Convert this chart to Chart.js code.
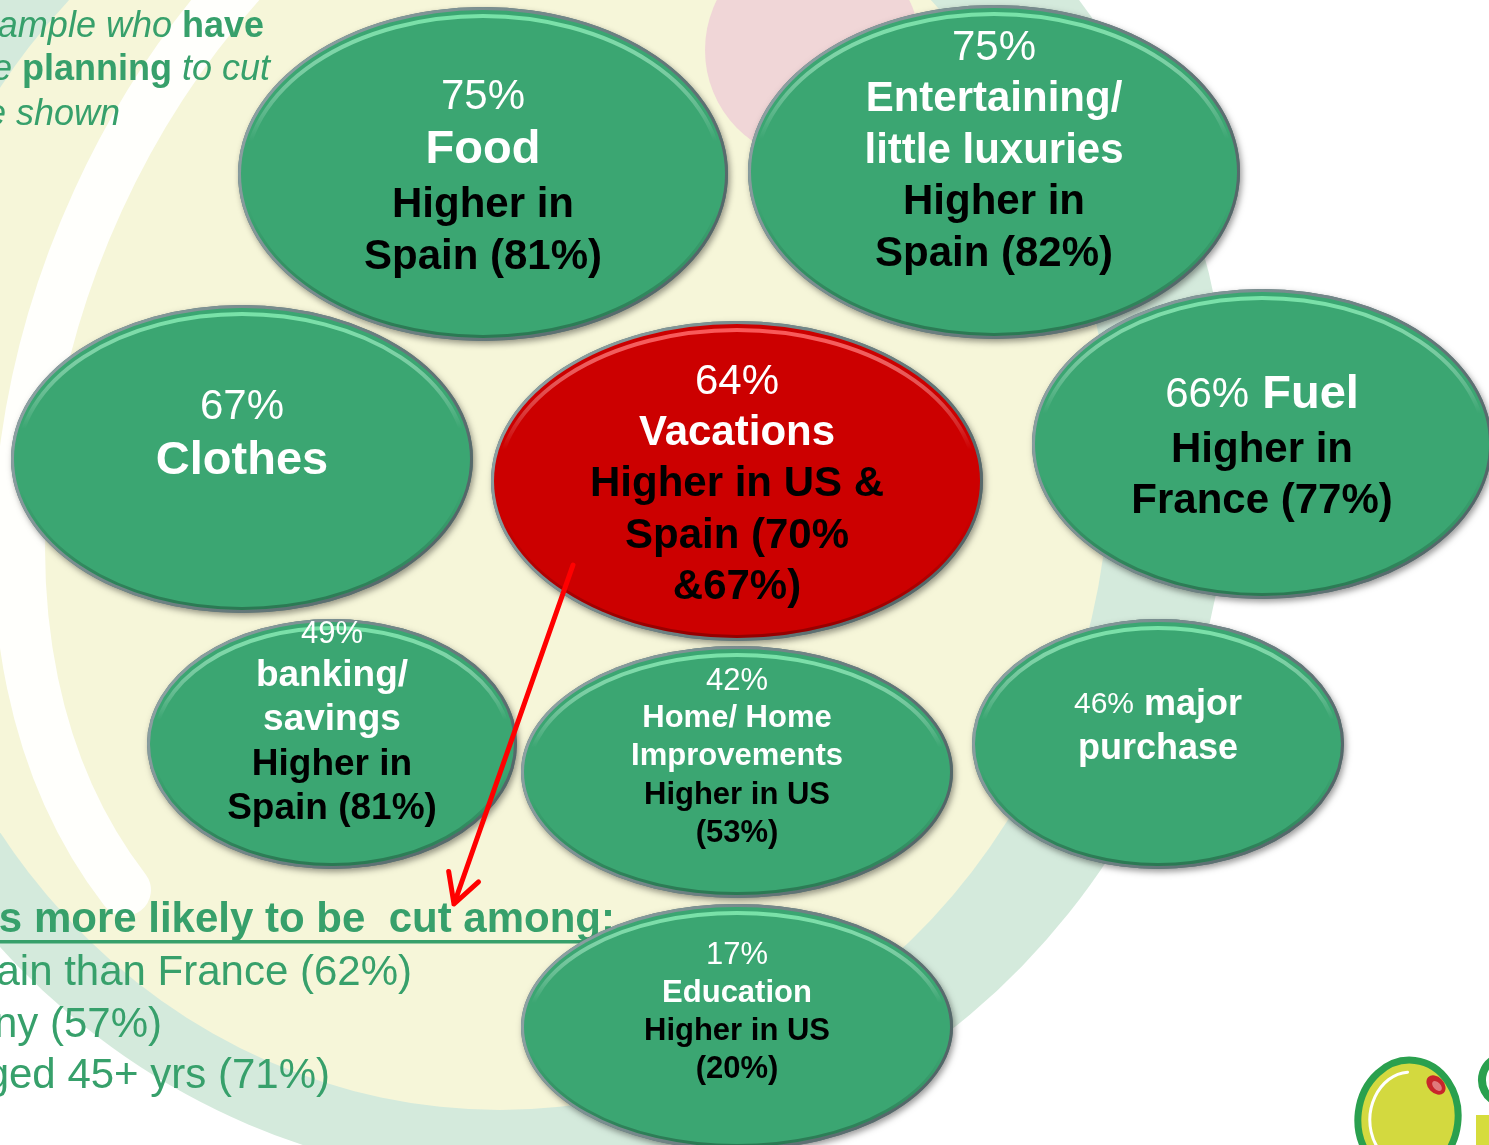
<!DOCTYPE html>
<html>
<head>
<meta charset="utf-8">
<script src="https://cdn.jsdelivr.net/npm/chart.js@4.4.1/dist/chart.umd.min.js"></script>
<style>
    html, body { margin: 0; padding: 0; background: #ffffff; overflow: hidden; }
    #wrap { width: 1489px; height: 1145px; }
</style>
</head>
<body>
<div id="wrap"><canvas id="cutChart" width="1489" height="1145"></canvas></div>
<script>
// spending areas people plan to cut, share of sample (%)
const categories = ["Food", "Entertaining/\nlittle luxuries", "Clothes", "Vacations", "Fuel",
    "banking/\nsavings", "Home/ Home\nImprovements", "major\npurchase", "Education"];
const cutShares = [75, 75, 67, 64, 66, 49, 42, 46, 17];
const higherIn = ["Higher in\nSpain (81%)", "Higher in\nSpain (82%)", "", "Higher in US &\nSpain (70%\n&67%)",
    "Higher in\nFrance (77%)", "Higher in\nSpain (81%)", "Higher in US\n(53%)", "", "Higher in US\n(20%)"];

// bubble centres and half-axes on a 0..1489 x 0..1145 plane
const bubbleX = [483, 994, 242, 737, 1262, 332, 737, 1158, 737];
const bubbleY = [174, 172, 459, 481, 444, 744, 772, 744, 1027];
const bubbleRX = [242, 243, 228, 243, 227, 182, 213, 183, 213];
const bubbleRY = [164, 164, 151, 157, 152, 122, 123, 122, 120];

const FONT = '"Liberation Sans", Arial, sans-serif';
const WHITE = "#ffffff";
const BLACK = "#000000";
const TEXT_GREEN = "#37a06b";

// label layout: font sizes [share, category, note], line centres, share on same line as category
const labelSizes = [[42, 47, 42], [42, 42, 42], [42, 47, 42], [42, 42, 42], [42, 47, 42],
    [31, 37, 37], [31, 31, 31], [30, 36, 36], [31, 31, 31]];
const labelLineY = [
    [97, 150, 205, 257],
    [48, 99, 151, 202, 254],
    [407, 461],
    [382, 433, 484, 536, 587],
    [395, 450, 501],
    [634, 676, 720, 765, 809],
    [681, 718, 756, 795, 833],
    [705, 749],
    [955, 993, 1031, 1069],
];
const shareInline = [false, false, false, false, true, false, false, true, false];
const highlightIndex = 3;

function ellipsePath(ctx, x, y, rx, ry, rot) {
    ctx.beginPath();
    ctx.ellipse(x, y, Math.max(rx, 1), Math.max(ry, 1), rot || 0, 0, Math.PI * 2);
}

function drawSegments(ctx, segs, x, y, align, size) {
    let total = 0;
    segs.forEach(function (s) {
        ctx.font = s[1] + " " + (s[3] || size) + "px " + FONT;
        s.w = ctx.measureText(s[0]).width;
        total += s.w;
    });
    let start = align === "right" ? x - total : x - total / 2;
    ctx.textAlign = "left";
    ctx.textBaseline = "middle";
    segs.forEach(function (s) {
        ctx.font = s[1] + " " + (s[3] || size) + "px " + FONT;
        ctx.fillStyle = s[2];
        ctx.fillText(s[0], start, y);
        start += s.w;
    });
    return total;
}

const olivePlugin = {
    id: "oliveBackdrop",
    beforeDatasetsDraw(chart) {
        const ctx = chart.ctx;
        const sx = chart.scales.x;
        const sy = chart.scales.y;
        const X = (v) => sx.getPixelForValue(v);
        const Y = (v) => sy.getPixelForValue(v);
        const LX = (v) => sx.getPixelForValue(v) - sx.getPixelForValue(0);
        const LY = (v) => sy.getPixelForValue(v) - sy.getPixelForValue(0);

        ctx.save();
        // big faded olive behind the bubbles
        ellipsePath(ctx, X(520), Y(450), LX(710), LY(730), 0);
        ctx.fillStyle = "#d4eadc";
        ctx.fill();
        ellipsePath(ctx, X(500), Y(460), LX(610), LY(650), 0);
        ctx.fillStyle = "#f6f6d9";
        ctx.fill();

        // highlight arc
        ctx.beginPath();
        ctx.moveTo(X(238), Y(-15));
        ctx.bezierCurveTo(X(10), Y(240), X(-60), Y(650), X(125), Y(890));
        ctx.strokeStyle = "rgba(255,255,255,0.92)";
        ctx.lineWidth = 52;
        ctx.lineCap = "round";
        ctx.stroke();

        // pimento
        ellipsePath(ctx, X(813), Y(50), LX(108), LY(110), 0);
        ctx.fillStyle = "#f0d6d7";
        ctx.fill();

        // side notes in green
        const topLines = [
            { segs: [["ample who ", "italic", TEXT_GREEN], ["have", "bold", TEXT_GREEN]], right: 264, y: 27 },
            { segs: [["e ", "italic", TEXT_GREEN], ["planning", "bold", TEXT_GREEN], [" to cut", "italic", TEXT_GREEN]], right: 270, y: 70 },
            { segs: [["e shown", "italic", TEXT_GREEN]], right: 120, y: 115 },
        ];
        topLines.forEach(function (l) {
            drawSegments(ctx, l.segs, X(l.right), Y(l.y), "right", 36);
        });

        const bottomLines = [
            { segs: [["s more likely to be  cut among:", "bold", TEXT_GREEN]], right: 615, y: 920 },
            { segs: [["ain than France (62%)", "normal", TEXT_GREEN]], right: 412, y: 973 },
            { segs: [["ny (57%)", "normal", TEXT_GREEN]], right: 162, y: 1025 },
            { segs: [["ged 45+ yrs (71%)", "normal", TEXT_GREEN]], right: 330, y: 1076 },
        ];
        bottomLines.forEach(function (l) {
            drawSegments(ctx, l.segs, X(l.right), Y(l.y), "right", 42);
        });
        ctx.fillStyle = TEXT_GREEN;
        ctx.fillRect(X(0), Y(940), LX(615), 3.5);
        ctx.restore();
    },
};

function drawBubble(ctx, x, y, rx, ry, fill, light) {
    ctx.save();
    ctx.shadowColor = "rgba(0,0,0,0.4)";
    ctx.shadowBlur = 6;
    ctx.shadowOffsetX = 2;
    ctx.shadowOffsetY = 3;
    ellipsePath(ctx, x, y, rx + 3, ry + 3);
    ctx.fillStyle = "#5e7476";
    ctx.fill();
    ctx.restore();

    const rim = ctx.createLinearGradient(x - rx, y - ry, x + rx, y + ry);
    rim.addColorStop(0, "#93a8aa");
    rim.addColorStop(1, "#4b5e60");
    ellipsePath(ctx, x, y, rx + 3, ry + 3);
    ctx.fillStyle = rim;
    ctx.fill();

    ellipsePath(ctx, x, y, rx, ry);
    ctx.fillStyle = fill;
    ctx.fill();

    ctx.save();
    ellipsePath(ctx, x, y, rx, ry);
    ctx.clip();
    const hl = ctx.createLinearGradient(0, y - ry, 0, y - ry * 0.2);
    hl.addColorStop(0, light);
    hl.addColorStop(1, "rgba(255,255,255,0)");
    ellipsePath(ctx, x, y + 2, rx - 4, ry - 4);
    ctx.strokeStyle = hl;
    ctx.lineWidth = 4;
    ctx.stroke();
    const sh = ctx.createLinearGradient(0, y + ry * 0.2, 0, y + ry);
    sh.addColorStop(0, "rgba(0,0,0,0)");
    sh.addColorStop(1, "rgba(0,0,0,0.28)");
    ellipsePath(ctx, x, y, rx - 1, ry - 1);
    ctx.strokeStyle = sh;
    ctx.lineWidth = 4;
    ctx.stroke();
    ctx.restore();
}

const bubblePlugin = {
    id: "ellipseBubbles",
    afterDatasetsDraw(chart) {
        const ctx = chart.ctx;
        const sx = chart.scales.x;
        const sy = chart.scales.y;
        const meta = chart.getDatasetMeta(0);
        ctx.save();
        meta.data.forEach(function (pt, i) {
            const raw = chart.data.datasets[0].data[i];
            const rx = sx.getPixelForValue(raw.x + raw.rx) - pt.x;
            const ry = sy.getPixelForValue(raw.y + raw.ry) - pt.y;
            const red = i === highlightIndex;
            drawBubble(ctx, pt.x, pt.y, rx, ry,
                red ? "#cc0000" : "#3ba672",
                red ? "rgba(255,90,90,0.95)" : "rgba(120,232,170,0.95)");

            // labels
            const sizes = labelSizes[i];
            const catParts = categories[i].split("\n");
            const noteParts = higherIn[i] ? higherIn[i].split("\n") : [];
            const lines = [];
            const share = cutShares[i] + "%";
            if (shareInline[i]) {
                lines.push([[share, "normal", WHITE, sizes[0]], [" " + catParts[0], "bold", WHITE, sizes[1]]]);
            } else {
                lines.push([[share, "normal", WHITE, sizes[0]]]);
                lines.push([[catParts[0], "bold", WHITE, sizes[1]]]);
            }
            catParts.slice(1).forEach(function (c) {
                lines.push([[c, "bold", WHITE, sizes[1]]]);
            });
            noteParts.forEach(function (n) {
                lines.push([[n, "bold", BLACK, sizes[2]]]);
            });
            lines.forEach(function (segs, k) {
                drawSegments(ctx, segs, pt.x, sy.getPixelForValue(labelLineY[i][k]), "center", sizes[1]);
            });
        });

        // red arrow from the vacations bubble down to the note
        const ax0 = sx.getPixelForValue(573), ay0 = sy.getPixelForValue(565);
        const ax1 = sx.getPixelForValue(454), ay1 = sy.getPixelForValue(904);
        ctx.strokeStyle = "#ff0000";
        ctx.lineWidth = 5;
        ctx.lineCap = "round";
        ctx.lineJoin = "round";
        ctx.beginPath();
        ctx.moveTo(ax0, ay0);
        ctx.lineTo(ax1, ay1);
        const ang = Math.atan2(ay0 - ay1, ax0 - ax1);
        const head = 33;
        ctx.moveTo(ax1 + head * Math.cos(ang - 0.5), ay1 + head * Math.sin(ang - 0.5));
        ctx.lineTo(ax1, ay1);
        ctx.lineTo(ax1 + head * Math.cos(ang + 0.5), ay1 + head * Math.sin(ang + 0.5));
        ctx.stroke();

        // corner logo
        const lx = sx.getPixelForValue(1408), ly = sy.getPixelForValue(1118);
        ellipsePath(ctx, lx, ly, 50, 58, 0.12);
        ctx.fillStyle = "#d3d93f";
        ctx.fill();
        ctx.lineWidth = 7;
        ctx.strokeStyle = "#2aa04e";
        ctx.stroke();
        ctx.beginPath();
        ctx.ellipse(lx, ly, 38, 46, 0.12, Math.PI * 0.62, Math.PI * 1.45);
        ctx.strokeStyle = "#ffffff";
        ctx.lineWidth = 3;
        ctx.stroke();
        ellipsePath(ctx, lx + 28, ly - 33, 11, 8, 0.8);
        ctx.fillStyle = "#c8262b";
        ctx.fill();
        ellipsePath(ctx, lx + 29, ly - 32, 6, 3.5, 0.8);
        ctx.fillStyle = "#e07a7c";
        ctx.fill();
        ctx.beginPath();
        ctx.arc(sx.getPixelForValue(1506), sy.getPixelForValue(1080), 24, Math.PI * 0.6, Math.PI * 1.5);
        ctx.strokeStyle = "#2aa04e";
        ctx.lineWidth = 8;
        ctx.stroke();
        ctx.fillStyle = "#d6dc3c";
        ctx.fillRect(sx.getPixelForValue(1476), sy.getPixelForValue(1115), 14, 40);
        ctx.restore();
    },
};

document.addEventListener("DOMContentLoaded", function () {
    const points = bubbleX.map(function (x, i) {
        return { x: x, y: bubbleY[i], rx: bubbleRX[i], ry: bubbleRY[i] };
    });

    new Chart(document.getElementById("cutChart"), {
        type: "scatter",
        data: {
            datasets: [
                {
                    label: "Planning to cut",
                    data: points,
                    pointRadius: 0,
                    pointHoverRadius: 0,
                },
            ],
        },
        options: {
            responsive: false,
            animation: false,
            devicePixelRatio: 1,
            layout: { padding: 0 },
            plugins: {
                legend: { display: false },
                tooltip: { enabled: false },
            },
            scales: {
                x: { type: "linear", min: 0, max: 1489, display: false },
                y: { type: "linear", min: 0, max: 1145, reverse: true, display: false },
            },
        },
        plugins: [olivePlugin, bubblePlugin],
    });
});
</script>
</body>
</html>
